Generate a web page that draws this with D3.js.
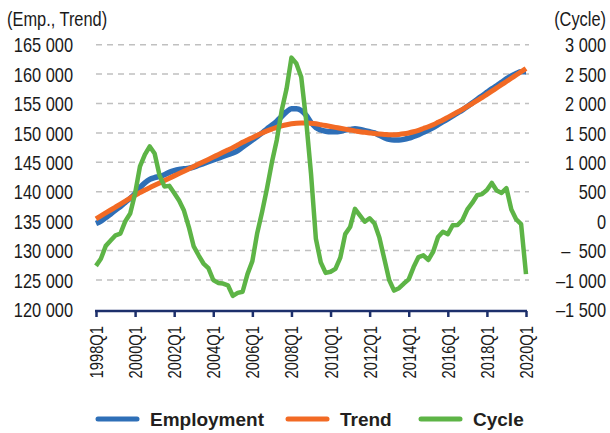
<!DOCTYPE html>
<html><head><meta charset="utf-8">
<script src="https://cdn.jsdelivr.net/npm/d3@7"></script>
<style>
html,body{margin:0;padding:0;background:#fff;}
svg{display:block;}
.tk{font-family:"Liberation Sans",Arial,sans-serif;font-size:20px;fill:#1a1a1a;}
.lg{font-family:"Liberation Sans",Arial,sans-serif;font-weight:bold;font-size:19px;fill:#231f20;}
</style></head><body>
<svg id="c" width="610" height="433"></svg>
<script>
// quarters 1998Q1 .. 2020Q1
const years = d3.range(1998, 2021);
const quarters = [];
years.forEach(y => [1,2,3,4].forEach(q => { if (y < 2020 || q === 1) quarters.push(y + "Q" + q); }));
const tickLabels = ["1998Q1","2000Q1","2002Q1","2004Q1","2006Q1","2008Q1","2010Q1","2012Q1","2014Q1","2016Q1","2018Q1","2020Q1"];

const employment = [
134600,135000,135600,136200,136900,137500,138200,138900,139700,140700,
141500,142100,142400,142600,142900,143300,143600,143800,143900,144000,
144200,144500,144800,145100,145400,145700,146000,146300,146600,147000,
147600,148200,148800,149400,150000,150700,151300,152000,152800,153600,
154100,154100,153800,153000,151800,150900,150500,150300,150200,150200,
150300,150500,150600,150700,150600,150400,150200,150000,149600,149200,
148900,148800,148800,148900,149100,149400,149700,150100,150500,150900,
151400,151900,152400,152900,153400,153900,154500,155100,155700,156300,
156900,157500,158000,158600,159200,159700,160100,160400,160400];

const trend = [
135400,135900,136400,136900,137400,137900,138400,138900,139400,139850,
140300,140700,141100,141500,141900,142300,142700,143100,143500,143900,
144300,144700,145100,145500,145900,146300,146700,147100,147500,147950,
148400,148800,149200,149600,150000,150350,150650,150950,151200,151400,
151550,151650,151700,151700,151650,151550,151400,151250,151100,150950,
150800,150650,150500,150350,150200,150100,150000,149900,149800,149750,
149700,149700,149750,149850,150000,150200,150450,150750,151050,151400,
151800,152200,152650,153100,153550,154000,154500,155000,155500,156000,
156550,157100,157650,158200,158750,159300,159850,160400,160950];

const cycle = [
-760,-640,-420,-330,-240,-210,0,130,470,930,
1130,1270,1150,780,590,600,480,350,180,-100,
-430,-580,-720,-800,-1000,-1050,-1060,-1090,-1270,-1220,
-1200,-900,-680,-200,160,560,1000,1380,1880,2250,
2780,2680,2450,1720,810,-300,-700,-880,-860,-810,
-620,-220,-100,210,100,-10,50,-40,-280,-640,
-1000,-1180,-1140,-1060,-990,-780,-610,-580,-660,-520,
-270,-180,-220,-70,-65,20,200,310,440,460,
530,650,520,480,560,200,30,-50,-900];

const leftTicks = [120000,125000,130000,135000,140000,145000,150000,155000,160000,165000];
const rightTicks = [-1500,-1000,-500,0,500,1000,1500,2000,2500,3000];
const seriesNames = ["Employment","Trend","Cycle"];
const colors = ["#2e6fb7","#f26a24","#5db446"];

const svg = d3.select("#c");
const x = d3.scalePoint().domain(quarters).range([96, 526]);
const yL = d3.scaleLinear().domain([120000,165000]).range([309.4, 44.7]);
const yR = d3.scaleLinear().domain([-1500,3000]).range([309.4, 44.7]);

const grp = n => { const s = String(Math.abs(n)); return s.replace(/\B(?=(\d{3})+(?!\d))/g, " "); };
const fmtR = v => v < 0 ? "\u2013" + (Math.abs(v) < 1000 ? "\u2002" : "") + grp(v) : grp(v);
const SQ = 0.82; // narrow face emulation

// gridlines
svg.append("g").selectAll("line").data(leftTicks.filter(t => t > 120000)).join("line")
  .attr("x1", 96).attr("x2", 529).attr("y1", d => yL(d)).attr("y2", d => yL(d))
  .attr("stroke", "#c0c0c0").attr("stroke-width", 1.5).attr("stroke-dasharray", "6,5");

// left axis labels
const la = svg.append("g").attr("transform", "translate(73,0)")
  .call(d3.axisLeft(yL).tickValues(leftTicks).tickSize(0).tickPadding(0).tickFormat(grp));
la.select(".domain").remove();
la.selectAll("text").attr("class", "tk").attr("dy", "0.36em").attr("x", 0)
  .attr("text-anchor", "end").attr("transform", `scale(${SQ},1)`);

// right axis labels
const ra = svg.append("g").attr("transform", "translate(606,0)")
  .call(d3.axisLeft(yR).tickValues(rightTicks).tickSize(0).tickPadding(0).tickFormat(fmtR));
ra.select(".domain").remove();
ra.selectAll("text").attr("class", "tk").attr("dy", "0.36em").attr("x", 0)
  .attr("text-anchor", "end").attr("transform", `scale(${SQ},1)`);

// titles
svg.append("text").attr("class", "tk").attr("transform", `translate(7,26) scale(${SQ},1)`).text("(Emp., Trend)");
svg.append("text").attr("class", "tk").attr("text-anchor", "end")
  .attr("transform", `translate(606,26) scale(${SQ},1)`).text("(Cycle)");

// x axis
const xa = svg.append("g").attr("transform", "translate(0,311)")
  .call(d3.axisBottom(x).tickValues(tickLabels).tickSize(6).tickSizeOuter(0).tickPadding(0));
xa.select(".domain").attr("stroke", "#1c2f6b").attr("stroke-width", 2.5).attr("d", "M95,0H527");
xa.selectAll(".tick line").attr("stroke", "#1c2f6b").attr("stroke-width", 2.5);
xa.selectAll("text").attr("class", "tk")
  .style("font-size", "18px").attr("text-anchor", "end")
  .attr("transform", `rotate(-90) scale(${SQ},1)`).attr("x", -15 / SQ).attr("y", 0).attr("dy", "0.36em");

// lines
const lineL = d3.line().x((d, i) => x(quarters[i])).y(d => yL(d)).curve(d3.curveMonotoneX);
const lineR = d3.line().x((d, i) => x(quarters[i])).y(d => yR(d));
svg.append("path").datum(employment).attr("d", lineL).attr("fill", "none")
  .attr("stroke", colors[0]).attr("stroke-width", 5.5).attr("stroke-linejoin", "round");
svg.append("path").datum(trend).attr("d", lineL).attr("fill", "none")
  .attr("stroke", colors[1]).attr("stroke-width", 5).attr("stroke-linejoin", "round");
svg.append("path").datum(cycle).attr("d", lineR).attr("fill", "none")
  .attr("stroke", colors[2]).attr("stroke-width", 4.5).attr("stroke-linejoin", "round");

// legend
const legX = [96, 286, 419];
const lg = svg.append("g");
seriesNames.forEach((n, i) => {
  lg.append("line").attr("x1", legX[i] + 2).attr("x2", legX[i] + 41).attr("y1", 419).attr("y2", 419)
    .attr("stroke", colors[i]).attr("stroke-width", 5).attr("stroke-linecap", "round");
  lg.append("text").attr("class", "lg").attr("x", legX[i] + 54).attr("y", 426).text(n);
});
</script>
</body></html>
